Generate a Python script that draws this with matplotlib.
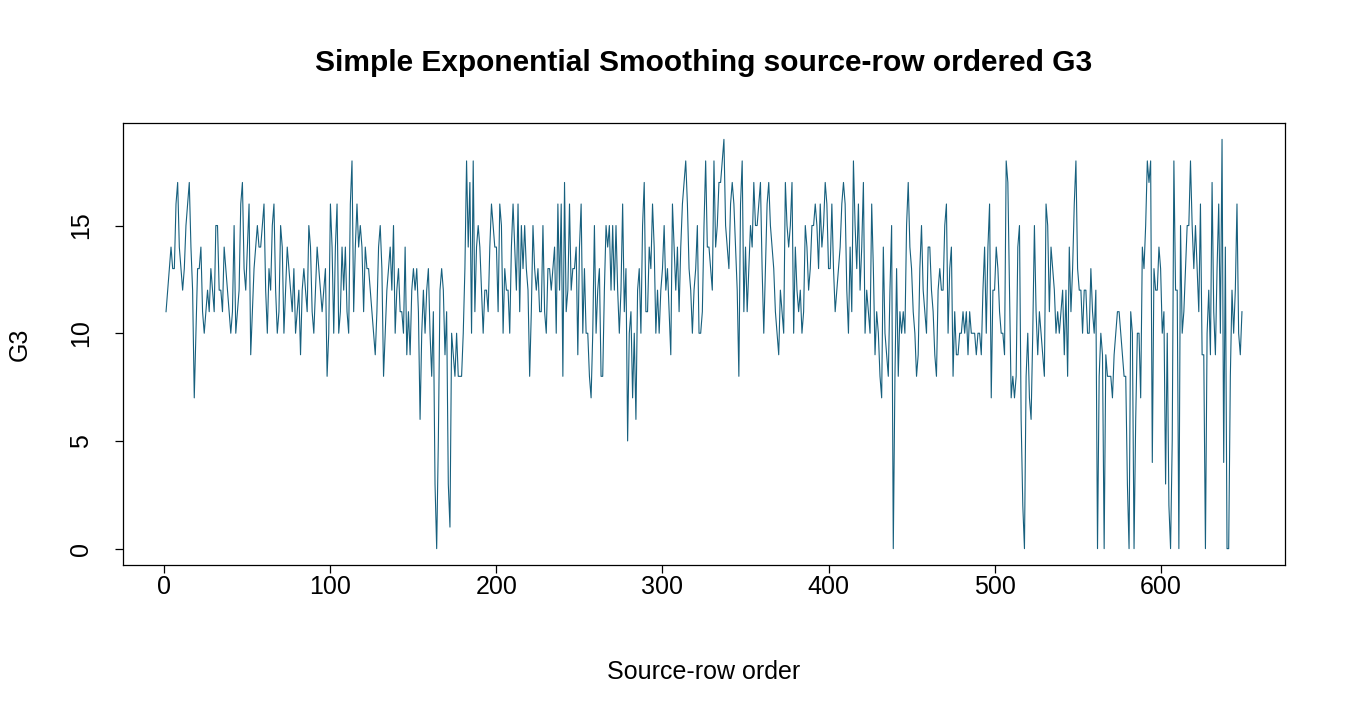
import numpy as np
import matplotlib
matplotlib.use('Agg')
import matplotlib.pyplot as plt

# G3 values in source-row order (one block per ~60 rows)
g3_part1 = [11,12,13,14,13,13,16,17,14,13,12,13,15,16,17,14,12,7,10,13,
            13,14,11,10,11,12,11,13,12,11,15,15,12,12,11,14,13,12,11,10,
            11,15,10,11,12,16,17,13,12,14,16,9,11,13,14,15,14]
g3_part2 = [14,15,16,12,10,13,12,15,16,12,10,11,15,14,10,12,14,13,12,11,
            13,10,11,12,9,12,13,12,11,15,14,11,10,12,14,13,12,11,12,13,
            8,10,16,14,10,14,16,10,11,14,12,14,11,10,16,18,11,14,16,14]
g3_part3 = [15,14,11,14,13,13,12,11,10,9,11,14,15,13,8,10,12,13,14,12,
            15,10,12,13,11,11,10,14,9,11,9,12,13,12,13,11,6,10,12,10,
            12,13,10,8,11,3,0,5,12,13,12,9,11,3,1,10,9,8,10,8]
g3_part4 = [8,8,10,13,18,14,17,10,18,11,14,15,14,12,10,12,12,11,14,16,
            15,14,14,11,16,15,10,13,12,12,10,14,16,14,12,16,11,15,13,15,
            13,12,8,11,15,13,12,13,11,11,15,11,10,13,13,12,13,14,10,16]
g3_part5 = [12,16,8,17,11,12,16,12,13,13,14,9,14,16,10,13,10,10,8,7,
            10,15,10,12,13,8,8,12,15,14,15,12,15,12,15,12,10,12,16,11,
            13,5,10,11,7,10,6,12,13,10,15,17,11,11,14,13,16,14,10,12]
g3_part6 = [10,12,13,15,12,13,11,9,16,14,12,14,11,14,16,17,18,16,13,12,
            10,12,13,15,10,10,11,15,18,14,14,13,12,18,14,15,17,17,18,19,
            15,14,13,16,17,16,14,12,8,16,18,11,14,11,13,15,14,17,15,15]
g3_part7 = [16,17,13,10,13,16,17,15,14,13,11,10,9,12,11,10,17,15,14,15,
            17,10,14,12,11,12,10,11,15,14,12,13,15,15,16,15,13,16,14,15,
            17,16,13,13,16,13,11,12,13,14,16,17,16,12,10,14,11,18,15,13]
g3_part8 = [16,12,14,17,10,12,11,10,16,13,9,11,10,8,7,14,10,9,8,12,
            15,0,8,13,8,11,10,11,10,15,17,14,13,11,10,8,9,13,15,12,
            11,10,14,14,12,11,9,8,12,13,12,12,15,16,10,13,14,8,11,9]
g3_part9 = [9,10,10,11,10,11,9,11,10,10,10,9,10,10,9,12,14,10,14,16,
            7,12,12,14,13,11,10,10,9,18,17,12,7,8,7,8,14,15,6,2,
            0,8,10,7,6,10,15,11,9,11,10,9,8,16,15,11,14,13,12,10]
g3_part10 = [11,10,11,12,9,12,8,14,11,13,16,18,13,12,12,10,12,12,10,10,
             13,11,10,12,0,8,10,9,0,9,8,8,8,7,9,10,11,11,10,9,
             8,8,3,0,11,10,0,6,10,10,7,14,13,15,18,17,18,4,13,12]
g3_part11 = [12,14,13,10,11,3,10,2,0,5,18,12,12,0,15,10,11,13,15,15,
             18,15,13,15,13,11,16,9,9,0,10,12,9,17,11,9,13,16,10,19,
             4,14,0,0,8,12,10,12,16,10,9,11]

g3 = (g3_part1 + g3_part2 + g3_part3 + g3_part4 + g3_part5 + g3_part6
      + g3_part7 + g3_part8 + g3_part9 + g3_part10 + g3_part11)
rows = np.arange(1, len(g3) + 1)

plt.rcParams['font.family'] = ['Liberation Sans', 'DejaVu Sans']

fig = plt.figure(figsize=(13.5, 7.2), dpi=100)
# plot box 123..1285 x 123..565 px
ax = fig.add_axes([123/1350, 1 - 565/720, 1162/1350, 442/720])

ax.plot(rows, g3, color='#17607e', lw=0.8)

n = len(g3)
ax.set_xlim(1 - 0.04*(n - 1), n + 0.04*(n - 1))
ax.set_ylim(0 - 0.04*19, 19 + 0.04*19)
ax.set_xticks([0, 100, 200, 300, 400, 500, 600])
ax.set_yticks([0, 5, 10, 15])
ax.set_yticklabels(['0', '5', '10', '15'], rotation=90, va='center')
ax.tick_params(direction='out', length=5.5, width=0.9, labelsize=18)
ax.tick_params(axis='x', pad=1.5)
ax.tick_params(axis='y', pad=16)
for s in ax.spines.values():
    s.set_linewidth(0.9)

ax.set_xlabel('Source-row order', fontsize=18, va='center')
ax.xaxis.set_label_coords(0.5, -(672 - 565) / 442)
ax.set_ylabel('G3', fontsize=18, va='center')
ax.yaxis.set_label_coords(-(123 - 20) / 1162, 0.5)
ax.text(0.5, (565 - 63) / 442, 'Simple Exponential Smoothing source-row ordered G3',
        transform=ax.transAxes, ha='center', va='center',
        fontsize=21.5, fontweight='bold')

fig.savefig('out.png', dpi=100)
